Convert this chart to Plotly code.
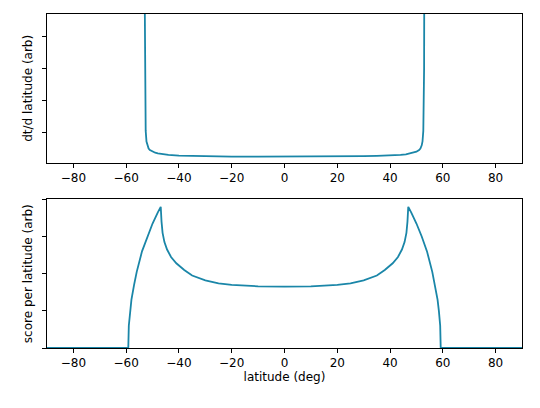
import plotly.graph_objects as go
from plotly.subplots import make_subplots

# top panel: dt/d latitude (arb), symmetric
top_lat = [-52.95, -52.9, -52.8, -52.6, -52.3, -52.0, -51.5, -51.0, -50.0, -49.0, -48.0, -46.0, -44.0,
           -40.0, -35.0, -30.0, -20.0, -10.0, 0.0, 10.0, 20.0, 30.0, 35.0, 40.0, 44.0, 46.0,
           48.0, 49.0, 50.0, 51.0, 51.5, 52.0, 52.3, 52.6, 52.8, 52.9, 52.95]
top_val = [5.0, 3.0, 1.8, 1.05, 0.72, 0.6, 0.5, 0.45, 0.4, 0.37, 0.35, 0.32, 0.3,
           0.28, 0.27, 0.26, 0.25, 0.245, 0.245, 0.245, 0.25, 0.26, 0.27, 0.28, 0.3, 0.32,
           0.35, 0.37, 0.4, 0.45, 0.5, 0.6, 0.72, 1.05, 1.8, 3.0, 5.0]

# bottom panel: score per latitude (arb)
bot_lat = [-90, -59.2, -59.0, -58.5, -58.0, -57.0, -56.0, -54.0, -52.0, -50.0, -48.0, -46.9,
           -46.6, -46.2, -45.5, -44.5, -43.0, -41.0, -38.0, -35.0, -30.0, -25.0, -20.0, -10.0, 0.0,
           10.0, 20.0, 25.0, 30.0, 35.0, 38.0, 41.0, 43.0, 44.5, 45.5, 46.2, 46.6, 46.9,
           48.0, 50.0, 52.0, 54.0, 56.0, 57.0, 58.0, 58.5, 59.0, 59.2, 90]
bot_val = [0, 0, 0.6, 1.0, 1.3, 1.7, 2.05, 2.6, 3.0, 3.35, 3.65, 3.8,
           3.4, 3.1, 2.85, 2.65, 2.45, 2.28, 2.1, 1.95, 1.82, 1.74, 1.7, 1.66, 1.65,
           1.66, 1.7, 1.74, 1.82, 1.95, 2.1, 2.28, 2.45, 2.65, 2.85, 3.1, 3.4, 3.8,
           3.65, 3.35, 3.0, 2.6, 2.05, 1.7, 1.3, 1.0, 0.6, 0, 0]

lat_ticks = [-80, -60, -40, -20, 0, 20, 40, 60, 80]
color = "#1a86a8"
font = dict(family="DejaVu Sans", size=12, color="black")

fig = make_subplots(rows=2, cols=1, vertical_spacing=0.11)
fig.add_trace(go.Scatter(x=top_lat, y=top_val, mode="lines", line=dict(color=color, width=1.8)), row=1, col=1)
fig.add_trace(go.Scatter(x=bot_lat, y=bot_val, mode="lines", line=dict(color=color, width=1.8)), row=2, col=1)

ax = dict(showgrid=False, zeroline=False, showline=True, mirror=True, linecolor="black", linewidth=1,
          ticks="outside", ticklen=4, tickcolor="black", tickfont=font)
for r in (1, 2):
    fig.update_xaxes(ax, range=[-90, 90], tickvals=lat_ticks, row=r, col=1)
fig.update_xaxes(title=dict(text="latitude (deg)", font=font, standoff=2), row=2, col=1)
fig.update_yaxes(ax, range=[0.06, 4.7], tickvals=[1, 2, 3, 4], showticklabels=False, row=1, col=1,
                 title=dict(text="dt/d latitude (arb)", font=font, standoff=6))
fig.update_yaxes(ax, range=[0, 4], tickvals=[0, 1, 2, 3, 4], showticklabels=False, row=2, col=1,
                 title=dict(text="score per latitude (arb)", font=font, standoff=6))

fig.update_layout(width=540, height=408, showlegend=False, plot_bgcolor="white", paper_bgcolor="white",
                  margin=dict(l=39, r=26, t=6, b=68))
fig.update_xaxes(automargin=False)
fig.update_yaxes(automargin=False)
fig.write_html("out.html")
